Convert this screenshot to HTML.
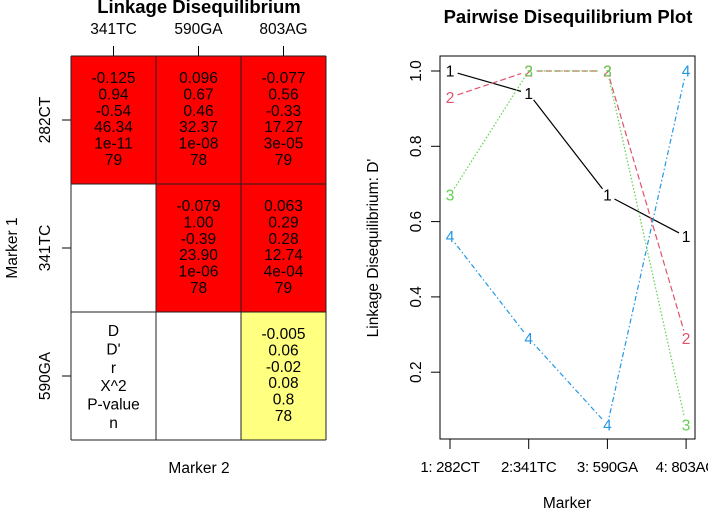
<!DOCTYPE html>
<html><head><meta charset="utf-8"><style>
html,body{margin:0;padding:0;background:#fff}
svg{display:block;font-family:"Liberation Sans",Arial,sans-serif}
</style></head><body>
<svg width="708" height="510" viewBox="0 0 708 510" xmlns="http://www.w3.org/2000/svg">
<g id="left"></g>
<g id="right"></g>
</svg>
<script>
const markers = ["282CT","341TC","590GA","803AG"];
const tableCells = [
 [0,1,["-0.125","0.94","-0.54","46.34","1e-11","79"],"#ff0000"],
 [0,2,["0.096","0.67","0.46","32.37","1e-08","78"],"#ff0000"],
 [0,3,["-0.077","0.56","-0.33","17.27","3e-05","79"],"#ff0000"],
 [1,2,["-0.079","1.00","-0.39","23.90","1e-06","78"],"#ff0000"],
 [1,3,["0.063","0.29","0.28","12.74","4e-04","79"],"#ff0000"],
 [2,3,["-0.005","0.06","-0.02","0.08","0.8","78"],"#ffff80"]
];
const legendLabels = ["D","D'","r","X^2","P-value","n"];
const xLabels = ["1: 282CT","2:341TC","3: 590GA","4: 803AG"];
const yTicks = [0.2,0.4,0.6,0.8,1.0];
const series1 = [1.0,0.94,0.67,0.56];
const series2 = [0.93,1.0,1.0,0.29];
const series3 = [0.67,1.0,1.0,0.06];
const series4 = [0.56,0.29,0.06,1.0];
const NS="http://www.w3.org/2000/svg";
const FS=15.5;
function mk(p,t,a,txt){const e=document.createElementNS(NS,t);for(const k in a)e.setAttribute(k,a[k]);if(txt!=null)e.textContent=txt;p.appendChild(e);return e;}
const L=document.getElementById('left'), R=document.getElementById('right');
const gx0=71,gy0=56,cw=85,rh=128;
let t=mk(L,'text',{x:199,y:13,'text-anchor':'middle','font-size':18.5,'font-weight':'bold'},'Linkage Disequilibrium');


for(let j=1;j<4;j++){
 const cx=gx0+(j-0.5)*cw;
 let e=mk(L,'text',{x:cx,y:34,'text-anchor':'middle','font-size':FS},markers[j]);
 
 
 mk(L,'line',{x1:cx,y1:46,x2:cx,y2:56,stroke:'#000'});
}
for(let i=0;i<3;i++){
 const cy=gy0+(i+0.5)*rh;
 let e=mk(L,'text',{x:0,y:0,'text-anchor':'middle','font-size':FS,transform:`translate(50,${cy}) rotate(-90)`},markers[i]);
 
 
 mk(L,'line',{x1:62,y1:cy,x2:71,y2:cy,stroke:'#000'});
}
for(const c of tableCells){
 const x=gx0+(c[1]-1)*cw,y=gy0+c[0]*rh;
 let r=mk(L,'rect',{x:x,y:y,width:cw,height:rh,fill:c[3]});
 
 
 c[2].forEach((s,k)=>mk(L,'text',{x:x+cw/2,y:y+27+k*16.4,'text-anchor':'middle','font-size':FS},s));
}
legendLabels.forEach((s,k)=>{let e=mk(L,'text',{x:gx0+cw/2,y:gy0+2*rh+24+k*18.4,'text-anchor':'middle','font-size':FS},s);
 
 });
for(let i=0;i<=3;i++){mk(L,'line',{x1:gx0,y1:gy0+i*rh,x2:gx0+3*cw,y2:gy0+i*rh,stroke:'#222'});mk(L,'line',{x1:gx0+i*cw,y1:gy0,x2:gx0+i*cw,y2:gy0+3*rh,stroke:'#222'});}
t=mk(L,'text',{x:199,y:473,'text-anchor':'middle','font-size':FS},'Marker 2');


t=mk(L,'text',{x:0,y:0,'text-anchor':'middle','font-size':FS,transform:'translate(17,248) rotate(-90)'},'Marker 1');


const px0=440,px1=695,py0=56,py1=439;
const xs=i=>450+i*78.7, ys=v=>71+(1-v)*376.5;
t=mk(R,'text',{x:568,y:23,'text-anchor':'middle','font-size':18.5,'font-weight':'bold'},'Pairwise Disequilibrium Plot');


mk(R,'rect',{x:px0,y:py0,width:px1-px0,height:py1-py0,fill:'none',stroke:'#000'});
yTicks.forEach(v=>{mk(R,'line',{x1:431,y1:ys(v),x2:440,y2:ys(v),stroke:'#000'});
 let e=mk(R,'text',{x:0,y:0,'text-anchor':'middle','font-size':FS,transform:`translate(421,${ys(v)}) rotate(-90)`},v.toFixed(1));
 
 });
xLabels.forEach((s,i)=>{mk(R,'line',{x1:xs(i),y1:439,x2:xs(i),y2:449,stroke:'#000'});
 let e=mk(R,'text',{x:xs(i),y:472,'text-anchor':'middle','font-size':15,'letter-spacing':'-0.3'},s);
 
 });
t=mk(R,'text',{x:567,y:508,'text-anchor':'middle','font-size':FS},'Marker');


t=mk(R,'text',{x:0,y:0,'text-anchor':'middle','font-size':FS,transform:'translate(378,248) rotate(-90)'},"Linkage Disequilibrium: D'");


const series=[[series1,'#000','','1'],[series2,'#DF536B','6 3','2'],[series3,'#61D04F','1.5 2','3'],[series4,'#2297E6','1.5 2.5 5 2.5','4']];
series.forEach(([d,col,dash,lab])=>{
 const g=mk(R,'g',{});
 
 
 for(let i=0;i<d.length-1;i++){
  const x1=xs(i),y1=ys(d[i]),x2=xs(i+1),y2=ys(d[i+1]);
  const dx=x2-x1,dy=y2-y1,len=Math.hypot(dx,dy),g0=8;
  mk(g,'line',{x1:x1+dx/len*g0,y1:y1+dy/len*g0,x2:x2-dx/len*g0,y2:y2-dy/len*g0,stroke:col,'stroke-width':1.2,'stroke-dasharray':dash});
 }
 d.forEach((v,i)=>mk(g,'text',{x:xs(i),y:ys(v)+5.5,'text-anchor':'middle','font-size':FS,fill:col},lab));
});
</script>
</body></html>
